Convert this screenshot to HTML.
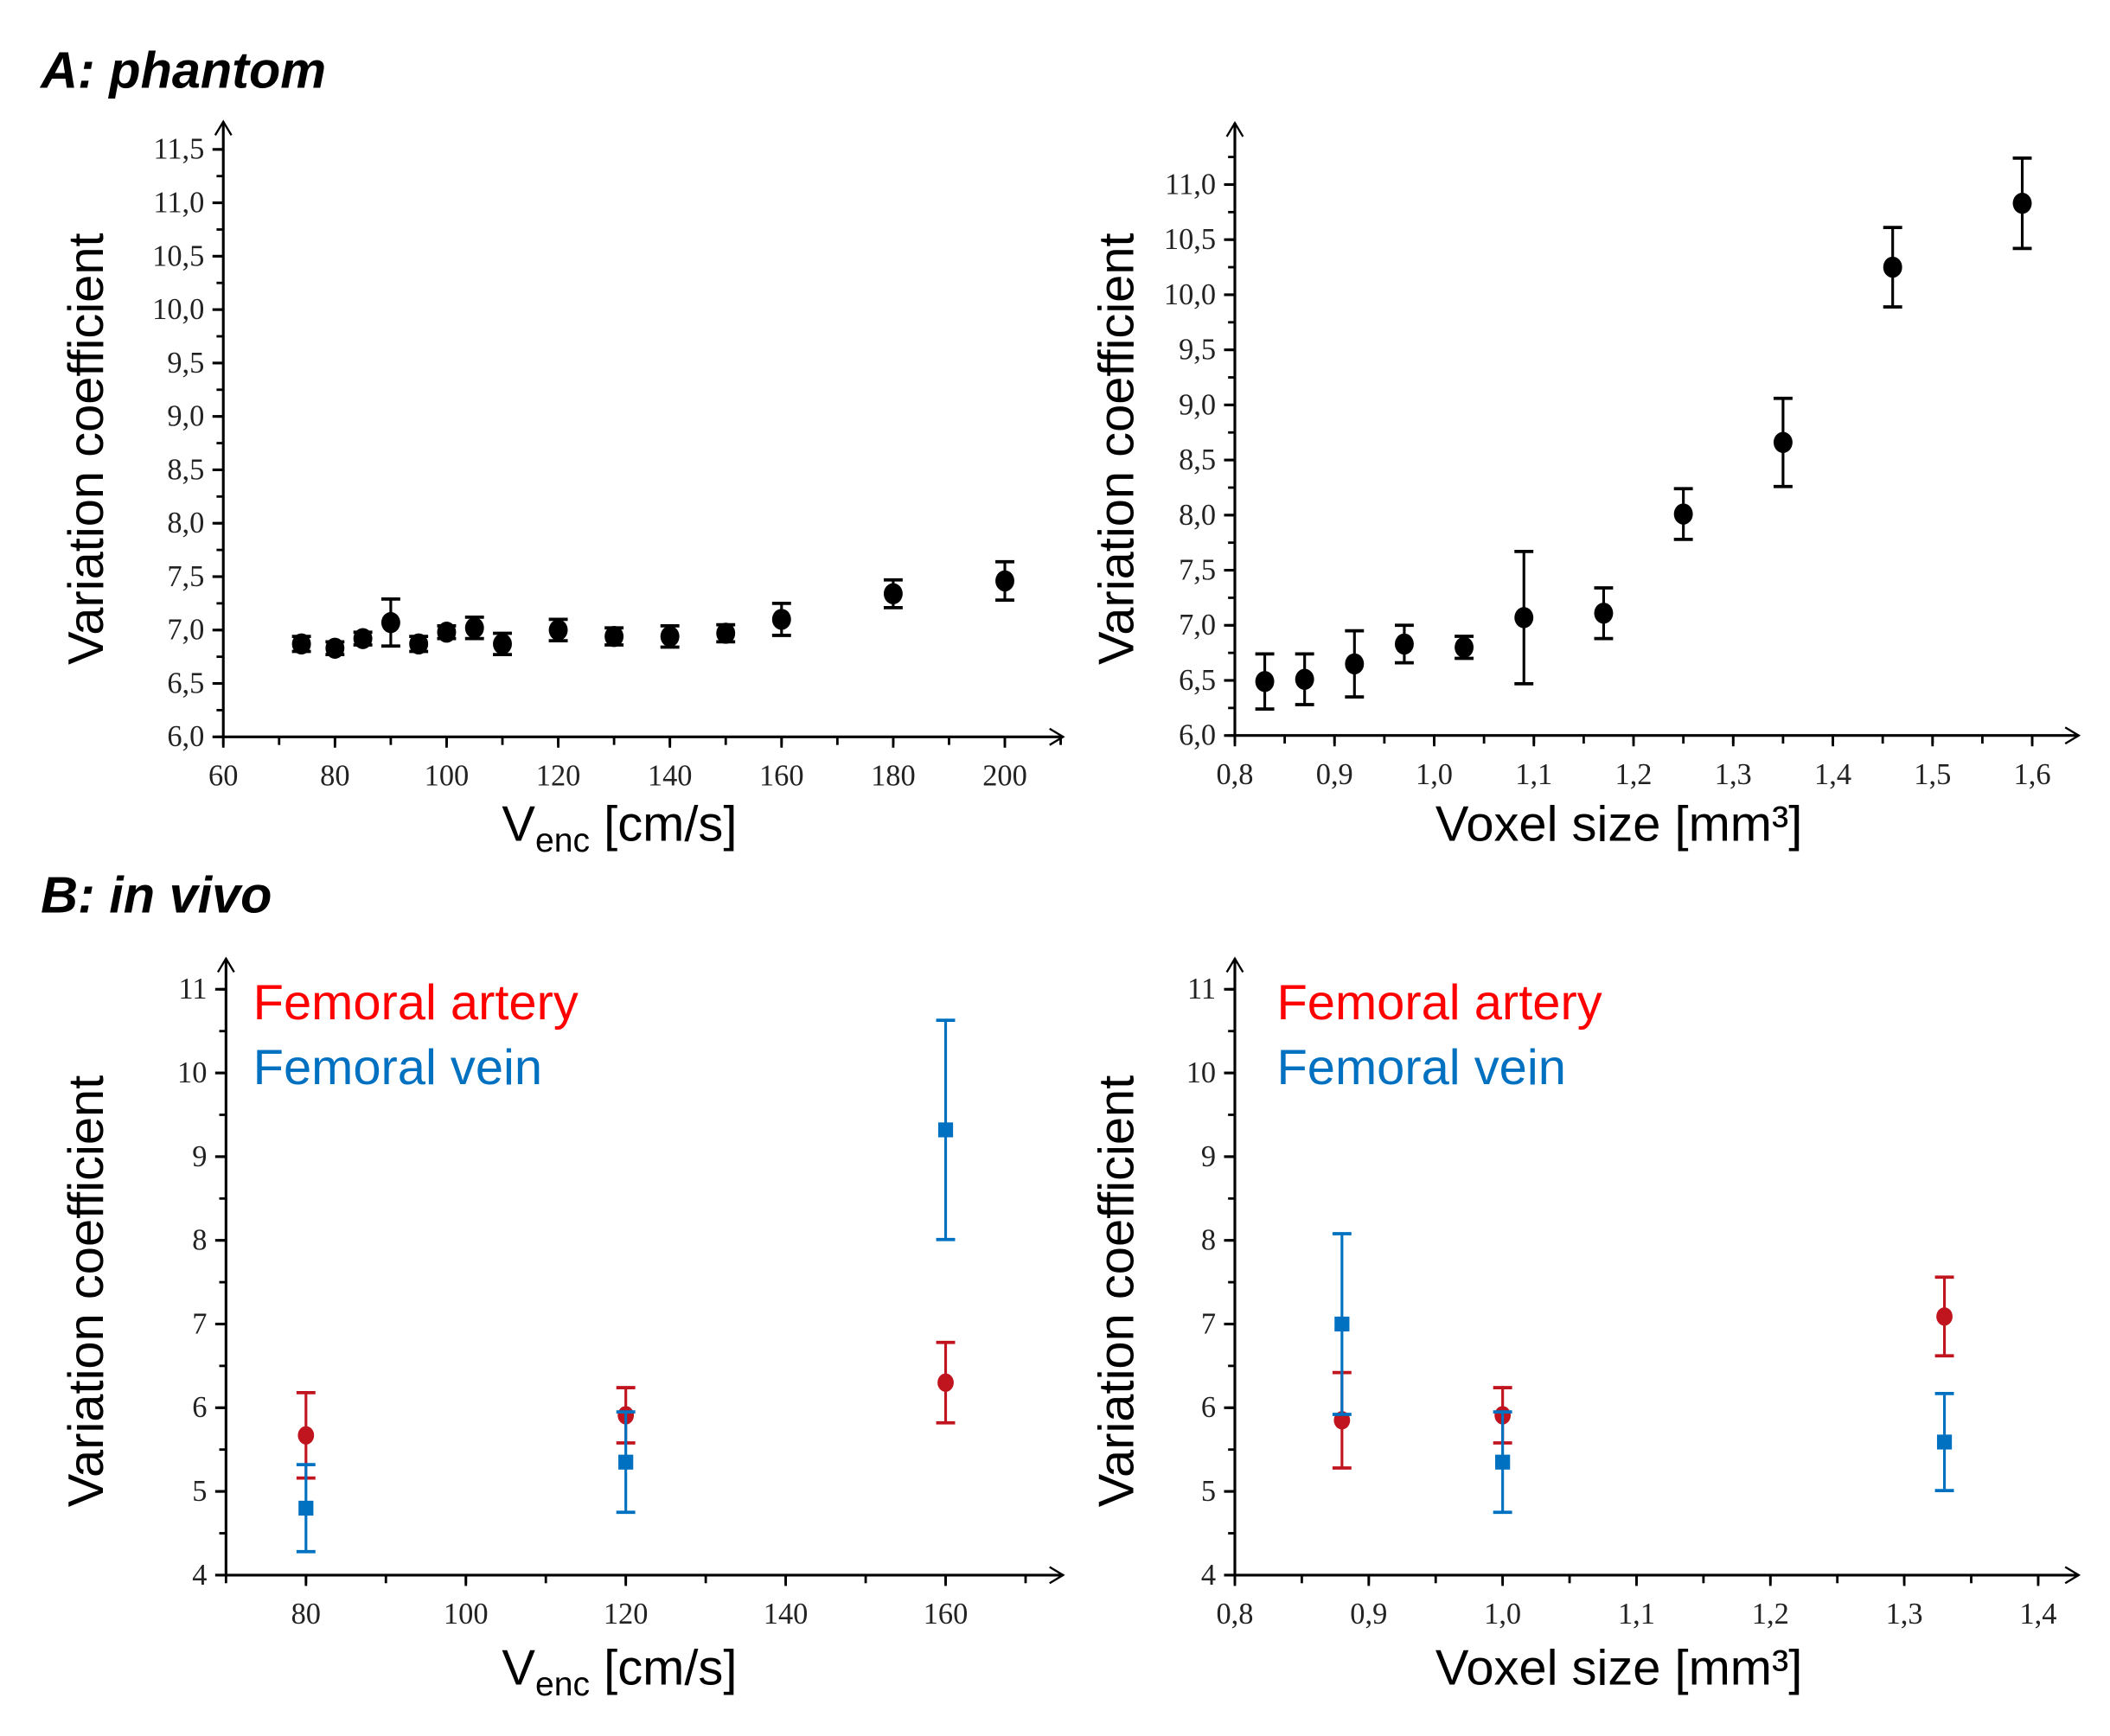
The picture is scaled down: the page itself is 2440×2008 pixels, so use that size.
<!DOCTYPE html>
<html><head><meta charset="utf-8"><style>
html,body{margin:0;padding:0;background:#fff;}
svg{display:block;}
.tk{font-family:"Liberation Serif",serif;font-size:22px;fill:#222;}
.ttl{font-family:"Liberation Sans",sans-serif;font-size:37px;fill:#000;}
.sec{font-family:"Liberation Sans",sans-serif;font-size:38px;font-weight:bold;font-style:italic;fill:#000;}
.leg{font-family:"Liberation Sans",sans-serif;font-size:37px;}
</style></head><body>
<svg id="fig" width="2440" height="2008" viewBox="0 0 1560 1284" xmlns="http://www.w3.org/2000/svg">
<text class="sec" x="30" y="65">A: phantom</text>
<text class="sec" x="30" y="675">B: in vivo</text>
<text class="ttl" transform="translate(76,332) rotate(-90)" text-anchor="middle">Variation coefficient</text>
<text class="ttl" transform="translate(838,332) rotate(-90)" text-anchor="middle">Variation coefficient</text>
<text class="ttl" transform="translate(76,955) rotate(-90)" text-anchor="middle">Variation coefficient</text>
<text class="ttl" transform="translate(838,955) rotate(-90)" text-anchor="middle">Variation coefficient</text>
<text class="ttl" x="458" y="622" text-anchor="middle">V<tspan font-size="25" dy="8">enc</tspan><tspan dy="-8"> [cm/s]</tspan></text>
<text class="ttl" x="1197" y="622" text-anchor="middle">Voxel size [mm³]</text>
<text class="ttl" x="458" y="1246" text-anchor="middle">V<tspan font-size="25" dy="8">enc</tspan><tspan dy="-8"> [cm/s]</tspan></text>
<text class="ttl" x="1197" y="1246" text-anchor="middle">Voxel size [mm³]</text>
<text class="leg" x="187" y="754" fill="#ff0000">Femoral artery</text>
<text class="leg" x="187" y="802" fill="#0070c0">Femoral vein</text>
<text class="leg" x="944" y="754" fill="#ff0000">Femoral artery</text>
<text class="leg" x="944" y="802" fill="#0070c0">Femoral vein</text>
</svg>
<script>
// Chart A1 data
const a1X=[74,80,85,90,95,100,105,110,120,130,140,150,160,180,200];
const a1Y=[6.87,6.83,6.92,7.07,6.87,6.98,7.02,6.87,7.0,6.94,6.94,6.97,7.1,7.34,7.46];
const a1Err=[0.07,0.06,0.06,0.22,0.07,0.06,0.1,0.1,0.1,0.08,0.1,0.08,0.15,0.13,0.18];
const a1XTicks=[60,80,100,120,140,160,180,200];
const a1YTicks=[6.0,6.5,7.0,7.5,8.0,8.5,9.0,9.5,10.0,10.5,11.0,11.5];
// Chart A2 data
const a2X=[0.83,0.87,0.92,0.97,1.03,1.09,1.17,1.25,1.35,1.46,1.59];
const a2Y=[6.49,6.51,6.65,6.83,6.8,7.07,7.11,8.01,8.66,10.25,10.83];
const a2Err=[0.25,0.23,0.3,0.17,0.1,0.6,0.23,0.23,0.4,0.36,0.41];
const a2XTicks=[0.8,0.9,1.0,1.1,1.2,1.3,1.4,1.5,1.6];
const a2YTicks=[6.0,6.5,7.0,7.5,8.0,8.5,9.0,9.5,10.0,10.5,11.0];
// Chart B1 data
const b1X=[80,120,160];
const b1Artery=[5.67,5.91,6.3];
const b1ArteryErr=[0.51,0.33,0.48];
const b1Vein=[4.8,5.35,9.32];
const b1VeinErr=[0.52,0.6,1.31];
const b1XTicks=[80,100,120,140,160];
const b1YTicks=[4,5,6,7,8,9,10,11];
// Chart B2 data
const b2X=[0.88,1.0,1.33];
const b2Artery=[5.85,5.91,7.09];
const b2ArteryErr=[0.57,0.33,0.47];
const b2Vein=[7.0,5.35,5.59];
const b2VeinErr=[1.08,0.6,0.58];
const b2XTicks=[0.8,0.9,1.0,1.1,1.2,1.3,1.4];
const b2YTicks=[4,5,6,7,8,9,10,11];

const NS="http://www.w3.org/2000/svg";
const svg=document.getElementById('fig');
function mk(tag,at,parent){const e=document.createElementNS(NS,tag);for(const k in at)e.setAttribute(k,at[k]);(parent||svg).appendChild(e);return e;}
function fmt(v,dec){return dec?v.toFixed(dec).replace('.',','):String(v);}

function chart(c){
  const g=mk('g',{});
  
  
  const xs=v=>c.ox+(v-c.xMin)*c.kx;
  const ys=v=>c.oy-(v-c.yMin)*c.ky;
  const xa=mk('line',{x1:c.ox,y1:c.oy,x2:c.xEnd,y2:c.oy,stroke:'#000','stroke-width':2},g);
  
  
  const ya=mk('line',{x1:c.ox,y1:c.oy,x2:c.ox,y2:c.yTop,stroke:'#000','stroke-width':2},g);
  
  
  mk('path',{d:`M${c.xEnd-10},${c.oy-6} L${c.xEnd},${c.oy} L${c.xEnd-10},${c.oy+6}`,fill:'none',stroke:'#000','stroke-width':1.5},g);
  mk('path',{d:`M${c.ox-6},${c.yTop+10} L${c.ox},${c.yTop} L${c.ox+6},${c.yTop+10}`,fill:'none',stroke:'#000','stroke-width':1.5},g);
  for(let v=c.xMinorStart;v<=c.xMinorEnd+1e-9;v+=c.xMinor){const x=xs(v);mk('line',{x1:x,y1:c.oy,x2:x,y2:c.oy+6,stroke:'#000','stroke-width':1.8},g);}
  c.xTicks.forEach(v=>{const x=xs(v);mk('line',{x1:x,y1:c.oy,x2:x,y2:c.oy+8,stroke:'#000','stroke-width':1.8},g);
    const t=mk('text',{x:x,y:c.oy+36,'text-anchor':'middle',class:'tk'},g);t.textContent=fmt(v,c.xDec);
    
    });
  for(let v=c.yMin;v<=c.yMinorEnd+1e-9;v+=c.yMinor){const y=ys(v);mk('line',{x1:c.ox-5,y1:y,x2:c.ox,y2:y,stroke:'#000','stroke-width':1.8},g);}
  c.yTicks.forEach(v=>{const y=ys(v);mk('line',{x1:c.ox-8,y1:y,x2:c.ox,y2:y,stroke:'#000','stroke-width':2},g);
    const t=mk('text',{x:c.ox-14,y:y+7,'text-anchor':'end',class:'tk'},g);t.textContent=fmt(v,c.yDec);
    
    });
  c.series.forEach(s=>{
    const sg=mk('g',{},g);
    
    
    s.x.forEach((xv,i)=>{
      const x=xs(xv),y=ys(s.y[i]),yt=ys(s.y[i]+s.e[i]),yb=ys(s.y[i]-s.e[i]);
      mk('line',{x1:x,y1:yt,x2:x,y2:yb,stroke:s.color,'stroke-width':2},sg);
      mk('line',{x1:x-7,y1:yt,x2:x+7,y2:yt,stroke:s.color,'stroke-width':2.4},sg);
      mk('line',{x1:x-7,y1:yb,x2:x+7,y2:yb,stroke:s.color,'stroke-width':2.4},sg);
      let m;
      if(s.shape==='square'){m=mk('rect',{x:x-5.5,y:y-5.5,width:11,height:11,fill:s.color},sg);}
      else{m=mk('ellipse',{cx:x,cy:y,rx:s.r||6,ry:(s.r||6)+0.8,fill:s.color},sg);}
      
      
    });
  });
}
chart({name:'chart-a1-venc-phantom',ox:165,oy:545,xMin:60,kx:82.56/20,yMin:6,ky:79,xEnd:786,yTop:90,
  xMinorStart:60,xMinorEnd:210,xMinor:10,xTicks:a1XTicks,xDec:0,yTicks:a1YTicks,yDec:1,yMinor:0.25,yMinorEnd:11.5,
  series:[{name:'phantom-series',x:a1X,y:a1Y,e:a1Err,color:'#000',r:7}]});
chart({name:'chart-a2-voxel-phantom',ox:913,oy:544,xMin:0.8,kx:737,yMin:6,ky:81.5,xEnd:1537,yTop:91,
  xMinorStart:0.8,xMinorEnd:1.6,xMinor:0.05,xTicks:a2XTicks,xDec:1,yTicks:a2YTicks,yDec:1,yMinor:0.25,yMinorEnd:11.25,
  series:[{name:'phantom-series',x:a2X,y:a2Y,e:a2Err,color:'#000',r:7}]});
chart({name:'chart-b1-venc-invivo',ox:167,oy:1165,xMin:70,kx:118.25/20,yMin:4,ky:61.9,xEnd:786,yTop:709,
  xMinorStart:70,xMinorEnd:170,xMinor:10,xTicks:b1XTicks,xDec:0,yTicks:b1YTicks,yDec:0,yMinor:0.5,yMinorEnd:11,
  series:[{name:'artery-series',x:b1X,y:b1Artery,e:b1ArteryErr,color:'#c0141e',r:6},
          {name:'vein-series',x:b1X,y:b1Vein,e:b1VeinErr,color:'#0070c0',shape:'square'}]});
chart({name:'chart-b2-voxel-invivo',ox:913,oy:1165,xMin:0.8,kx:990,yMin:4,ky:61.9,xEnd:1537,yTop:709,
  xMinorStart:0.8,xMinorEnd:1.4,xMinor:0.05,xTicks:b2XTicks,xDec:1,yTicks:b2YTicks,yDec:0,yMinor:0.5,yMinorEnd:11,
  series:[{name:'artery-series',x:b2X,y:b2Artery,e:b2ArteryErr,color:'#c0141e',r:6},
          {name:'vein-series',x:b2X,y:b2Vein,e:b2VeinErr,color:'#0070c0',shape:'square'}]});
</script>
</body></html>
